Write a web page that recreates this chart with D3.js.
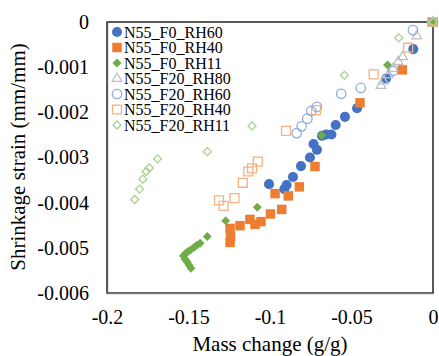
<!DOCTYPE html>
<html>
<head>
<meta charset="utf-8">
<script src="https://cdn.jsdelivr.net/npm/d3@7"></script>
<style>
  body { margin: 0; background: #fff; }
  text { font-family: "Liberation Serif", "Times New Roman", serif; fill: #000; }
</style>
</head>
<body>
<div id="chart"></div>
<script>

// data: [mass change, shrinkage strain]
var f0rh60 = [[-0.1006,-0.00359],[-0.0912,-0.00370],[-0.0898,-0.00361],[-0.0859,-0.00343],[-0.081,-0.00319],
  [-0.0755,-0.00300],[-0.0733,-0.00270],[-0.0712,-0.00283],[-0.0681,-0.00252],[-0.0656,-0.00249],
  [-0.0623,-0.00249],[-0.0597,-0.00228],[-0.054,-0.00210],[-0.0466,-0.00191],[-0.0288,-0.00125],
  [-0.0121,-0.00060],[0,0]];
var f0rh40 = [[-0.1245,-0.00488],[-0.1242,-0.00475],[-0.1245,-0.00457],[-0.1184,-0.00451],[-0.1123,-0.00437],
  [-0.1092,-0.00448],[-0.1055,-0.00442],[-0.0997,-0.00425],[-0.0928,-0.00415],[-0.0969,-0.00380],
  [-0.0888,-0.00385],[-0.082,-0.00365],[-0.0724,-0.00320],[-0.0448,-0.00179],[-0.0188,-0.00106],[0,0]];
var f0rh11 = [[-0.1485,-0.00545],[-0.1497,-0.00538],[-0.1509,-0.00531],[-0.1521,-0.00525],[-0.1531,-0.00518],
  [-0.1521,-0.00513],[-0.1503,-0.00508],[-0.1485,-0.00504],[-0.1466,-0.00499],[-0.1448,-0.00494],
  [-0.1429,-0.00490],[-0.1385,-0.00475],[-0.1272,-0.00440],[-0.1078,-0.00410],[-0.0683,-0.00251],
  [-0.0279,-0.00095],[0,0]];
var f20rh80 = [[-0.0319,-0.00141],[-0.0305,-0.00131],[-0.0274,-0.00117],[-0.0244,-0.00103],[-0.0213,-0.00088],
  [-0.0186,-0.00077],[-0.010,-0.00031],[0,0]];
var f20rh60 = [[-0.0836,-0.00246],[-0.0806,-0.00231],[-0.0771,-0.00214],[-0.0747,-0.00197],[-0.0712,-0.00188],
  [-0.0563,-0.00159],[-0.0443,-0.00146],[-0.0245,-0.00108],[-0.0123,-0.00018],[0,0]];
var f20rh40 = [[-0.1313,-0.00395],[-0.1285,-0.00407],[-0.1218,-0.00390],[-0.1167,-0.00356],[-0.1133,-0.00331],
  [-0.111,-0.00324],[-0.1075,-0.00309],[-0.0902,-0.00241],[-0.0718,-0.00195],[-0.0364,-0.00116],
  [-0.0152,-0.00057],[-0.0005,0]];
var f20rh11 = [[-0.183,-0.00393],[-0.180,-0.00370],[-0.178,-0.00348],[-0.176,-0.00331],[-0.174,-0.00323],
  [-0.169,-0.00303],[-0.1385,-0.00287],[-0.111,-0.00230],[-0.0544,-0.00118],[-0.021,-0.00035],[0,0]];

var seriesNames = ["N55_F0_RH60","N55_F0_RH40","N55_F0_RH11","N55_F20_RH80","N55_F20_RH60","N55_F20_RH40","N55_F20_RH11"];
var xTicks = [-0.2, -0.15, -0.1, -0.05, 0];
var xTickLabels = ["-0.2", "-0.15", "-0.1", "-0.05", "0"];
var yTicks = [0, -0.001, -0.002, -0.003, -0.004, -0.005, -0.006];
var yTickLabels = ["0", "-0.001", "-0.002", "-0.003", "-0.004", "-0.005", "-0.006"];

var series = [
  {name: seriesNames[0], data: f0rh60,  shape: "circle",   fill: "#4472C4", stroke: "none",    size: 80},
  {name: seriesNames[1], data: f0rh40,  shape: "square",   fill: "#ED7D31", stroke: "none",    size: 90},
  {name: seriesNames[2], data: f0rh11,  shape: "diamond",  fill: "#70AD47", stroke: "none",    size: 40},
  {name: seriesNames[3], data: f20rh80, shape: "triangle", fill: "none",    stroke: "#BFBFBF", size: 40},
  {name: seriesNames[4], data: f20rh60, shape: "circle",   fill: "none",    stroke: "#8FAADC", size: 70},
  {name: seriesNames[5], data: f20rh40, shape: "square",   fill: "none",    stroke: "#F4B183", size: 80},
  {name: seriesNames[6], data: f20rh11, shape: "diamond",  fill: "none",    stroke: "#A9D18E", size: 32}
];

var W = 439, H = 356;
var plot = {left: 107, right: 433, top: 22, bottom: 293};

var svg = d3.select("#chart").append("svg")
  .attr("width", W)
  .attr("height", H);

var xScale = d3.scaleLinear().domain([-0.2, 0]).range([plot.left, plot.right]);
var yScale = d3.scaleLinear().domain([-0.006, 0]).range([plot.bottom, plot.top]);

// plot frame
svg.append("rect")
  .attr("x", plot.left).attr("y", plot.top)
  .attr("width", plot.right - plot.left).attr("height", plot.bottom - plot.top)
  .attr("fill", "none").attr("stroke", "#000").attr("stroke-width", 1.3);

var xAxis = d3.axisBottom(xScale)
  .tickValues(xTicks)
  .tickSize(0)
  .tickPadding(17)
  .tickFormat(function(d, i) { return xTickLabels[i]; });

var yAxis = d3.axisLeft(yScale)
  .tickValues(yTicks)
  .tickSize(0)
  .tickPadding(18)
  .tickFormat(function(d, i) { return yTickLabels[i]; });

var gx = svg.append("g")
  .attr("transform", "translate(0," + plot.bottom + ")")
  .call(xAxis);
gx.select(".domain").attr("stroke", "#7f7f7f").attr("stroke-width", 1.3);
gx.selectAll("text").style("font-size", "20px").attr("font-family", null);

var gy = svg.append("g")
  .attr("transform", "translate(" + plot.left + ",0)")
  .call(yAxis);
gy.select(".domain").attr("stroke", "#595959").attr("stroke-width", 1.3);
gy.selectAll("text").style("font-size", "20px").attr("font-family", null);

function symbolPath(s) {
  if (s.shape == "circle") return d3.symbol(d3.symbolCircle, s.size)();
  if (s.shape == "triangle") return d3.symbol(d3.symbolTriangle, s.size)();
  return d3.symbol(d3.symbolSquare, s.size)();
}

function rot(s) { return s.shape == "diamond" ? " rotate(45)" : ""; }

series.forEach(function(s) {
  svg.append("g")
    .selectAll("path")
    .data(s.data)
    .enter().append("path")
      .attr("d", symbolPath(s))
      .attr("transform", function(d) { return "translate(" + xScale(d[0]) + "," + yScale(d[1]) + ")" + rot(s); })
      .attr("fill", s.fill)
      .attr("stroke", s.stroke)
      .attr("stroke-width", 1.3);
});

// legend
var legend = svg.append("g")
  .attr("transform", "translate(117,32)");

var item = legend.selectAll("g")
  .data(series)
  .enter().append("g")
  .attr("transform", function(d, i) { return "translate(0," + (i * 15.5) + ")"; });

item.append("path")
  .attr("d", function(d) { return symbolPath(d); })
  .attr("transform", function(d) { return rot(d); })
  .attr("fill", function(d) { return d.fill; })
  .attr("stroke", function(d) { return d.stroke; })
  .attr("stroke-width", 1.3);

item.append("text")
  .attr("x", 7)
  .attr("y", 5.5)
  .style("font-size", "16px")
  .text(function(d) { return d.name; });

// axis titles
svg.append("text")
  .attr("x", (plot.left + plot.right) / 2)
  .attr("y", 351)
  .attr("text-anchor", "middle")
  .style("font-size", "21px")
  .text("Mass change (g/g)");

svg.append("text")
  .attr("transform", "translate(25," + 157 + ") rotate(-90)")
  .attr("text-anchor", "middle")
  .style("font-size", "21px")
  .text("Shrinkage strain (mm/mm)");

</script>
</body>
</html>
